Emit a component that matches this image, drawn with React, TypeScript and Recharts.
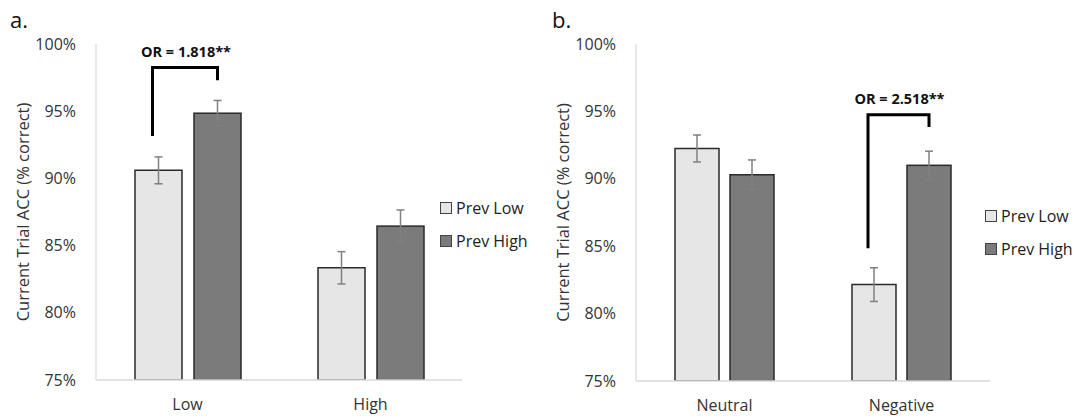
import React from 'react';
import { BarChart, Bar, XAxis, YAxis, ErrorBar } from 'recharts';

const seriesNames = ['Prev Low', 'Prev High'];
const yTicks = [75, 80, 85, 90, 95, 100];

const catsA = ['Low', 'High'];
const prevLowA = [90.6, 83.35];
const prevLowErrA = [1.0, 1.2];
const prevHighA = [94.85, 86.45];
const prevHighErrA = [0.95, 1.2];
const orLabelA = ['OR = 1.818**', ''];
const bracketTopA = [98.25, null];
const bracketLeftA = [93.15, null];
const bracketRightA = [97.3, null];

const catsB = ['Neutral', 'Negative'];
const prevLowB = [92.25, 82.15];
const prevLowErrB = [1.0, 1.25];
const prevHighB = [90.3, 91.0];
const prevHighErrB = [1.1, 1.05];
const orLabelB = ['', 'OR = 2.518**'];
const bracketTopB = [null, 94.75];
const bracketLeftB = [null, 84.85];
const bracketRightB = [null, 93.85];

const FONT = '"Open Sans", sans-serif';
const LIGHT = '#e6e6e6';
const DARK = '#7b7b7b';

function build(cats, lo, loE, hi, hiE, orL, bt, bl, br) {
  return cats.map((c, i) => ({
    cat: c, lo: lo[i], loErr: loE[i], hi: hi[i], hiErr: hiE[i],
    or: orL[i], bTop: bt[i], bLeft: bl[i], bRight: br[i],
  }));
}

const dataA = build(catsA, prevLowA, prevLowErrA, prevHighA, prevHighErrA, orLabelA, bracketTopA, bracketLeftA, bracketRightA);
const dataB = build(catsB, prevLowB, prevLowErrB, prevHighB, prevHighErrB, orLabelB, bracketTopB, bracketLeftB, bracketRightB);

const DOMAIN_MIN = 75;

function makeHighShape(barGap) {
  return (props) => {
    const { x, y, width, height, payload } = props;
    const els = [
      <rect key="r" x={x} y={y} width={width} height={height} fill={DARK} stroke="#2a2a2a" strokeWidth={1.5} />,
    ];
    if (payload && payload.bTop != null) {
      const bottom = y + height;
      const ppu = height / (payload.hi - DOMAIN_MIN);
      const py = (v) => bottom - (v - DOMAIN_MIN) * ppu;
      const rightX = x + width / 2;
      const leftX = x - barGap - width / 2 - 6;
      const topY = py(payload.bTop);
      els.push(
        <path key="b" d={`M${leftX},${py(payload.bLeft)} L${leftX},${topY} L${rightX},${topY} L${rightX},${py(payload.bRight)}`}
          fill="none" stroke="#000" strokeWidth={3} />
      );
      els.push(
        <text key="t" x={(leftX + rightX) / 2 + 1} y={topY - 16} textAnchor="middle" dominantBaseline="central"
          fontFamily={FONT} fontWeight="bold" fontSize={14.5} fill="#111">{payload.or}</text>
      );
    }
    return <g>{els}</g>;
  };
}

function Panel({ data, width, right, bottom, barSize, barGap, letter }) {
  return (
    <div style={{ position: 'relative', width, height: 419 }}>
      <div style={{ position: 'absolute', left: letter === 'a.' ? 10 : 12, top: 4, fontFamily: FONT, fontSize: 22, color: '#111' }}>{letter}</div>
      <BarChart width={width} height={419} data={data} margin={{ top: 44, right, bottom, left: 0 }}
        barSize={barSize} barGap={barGap}>
        <XAxis dataKey="cat" height={30} axisLine={{ stroke: '#d9d9d9', strokeWidth: 1.5 }} tickLine={false} tickMargin={13}
          tick={{ fontFamily: FONT, fontSize: 16, fill: '#333' }} />
        <YAxis width={96} domain={[75, 100]} ticks={yTicks} allowDataOverflow
          tickFormatter={(v) => `${v}%`} axisLine={{ stroke: '#e0e0e0', strokeWidth: 1.5 }} tickLine={false} tickMargin={14}
          tick={{ fontFamily: FONT, fontSize: 16, fill: '#333' }}
          label={{
            content: (p) => {
              const vb = p.viewBox;
              const cy = vb.y + vb.height / 2;
              return (
                <text x={22} y={cy} transform={`rotate(-90, 22, ${cy})`} textAnchor="middle" dominantBaseline="central"
                  fontFamily={FONT} fontSize={16.5} fill="#333">Current Trial ACC (% correct)</text>
              );
            },
          }} />
        <Bar dataKey="lo" name={seriesNames[0]} fill={LIGHT} stroke="#2a2a2a" strokeWidth={1.5} isAnimationActive={false}>
          <ErrorBar dataKey="loErr" width={4} stroke="#808080" strokeWidth={1.5} />
        </Bar>
        <Bar dataKey="hi" name={seriesNames[1]} fill={DARK} stroke="#2a2a2a" strokeWidth={1.5} isAnimationActive={false}
          shape={makeHighShape(barGap)}>
          <ErrorBar dataKey="hiErr" width={4} stroke="#808080" strokeWidth={1.5} />
        </Bar>
      </BarChart>
    </div>
  );
}

function LegendBox({ left, top, gap }) {
  const colors = [LIGHT, DARK];
  return (
    <div style={{ position: 'absolute', left, top, fontFamily: FONT, fontSize: 16, color: '#222' }}>
      {seriesNames.map((n, i) => (
        <div key={n} style={{ display: 'flex', alignItems: 'center', height: 22, marginBottom: i === 0 ? gap : 0 }}>
          <div style={{ width: 10, height: 10, background: colors[i], border: '1.5px solid #444', marginRight: 4 }} />
          <span>{n}</span>
        </div>
      ))}
    </div>
  );
}

export default function App() {
  return (
    <div style={{ position: 'absolute', left: 0, top: 0, width: 1081, height: 419, background: '#fff', display: 'flex' }}>
      <Panel data={dataA} width={540} right={78} bottom={9} barSize={47} barGap={12} letter="a." />
      <Panel data={dataB} width={541} right={91} bottom={8} barSize={44} barGap={11} letter="b." />
      <LegendBox left={440} top={197} gap={11} />
      <LegendBox left={985} top={205} gap={11} />
    </div>
  );
}
